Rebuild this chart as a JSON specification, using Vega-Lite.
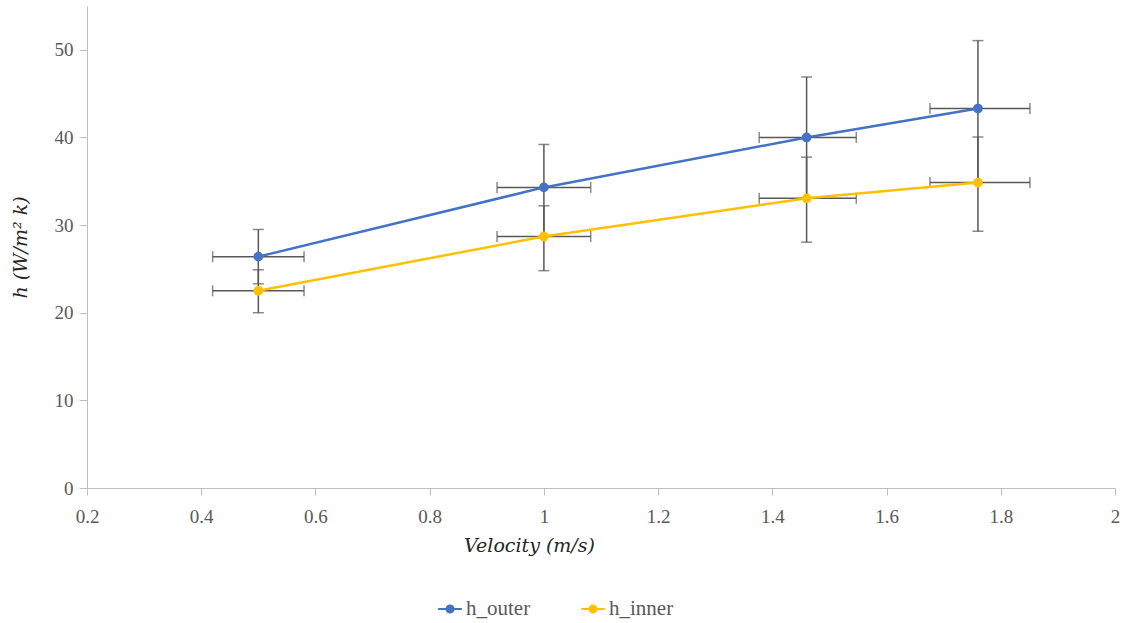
{
  "$schema": "https://vega.github.io/schema/vega-lite/v6.json",
  "autosize": {"type": "none"},
  "width": 1028,
  "height": 482,
  "padding": {"left": 87, "top": 6, "right": 10, "bottom": 135},
  "background": "white",
  "config": {
    "view": {"stroke": null},
    "axis": {
      "grid": false,
      "domainColor": "#bfbfbf",
      "tickColor": "#bfbfbf",
      "labelFont": "Liberation Serif",
      "labelFontSize": 19,
      "labelColor": "#595959",
      "labelFlush": false,
      "titleFont": "DejaVu Serif",
      "titleFontStyle": "italic",
      "titleFontWeight": "normal",
      "titleFontSize": 19,
      "titleColor": "#262626"
    }
  },
  "data": {
    "values": [
      {"series": "h_outer", "v": 0.5, "h": 26.4, "vlo": 23.3, "vhi": 29.5, "hlo": 0.42, "hhi": 0.58},
      {"series": "h_outer", "v": 1.0, "h": 34.3, "vlo": 28.7, "vhi": 39.2, "hlo": 0.918, "hhi": 1.082},
      {"series": "h_outer", "v": 1.46, "h": 40.0, "vlo": 33.1, "vhi": 46.9, "hlo": 1.377, "hhi": 1.547},
      {"series": "h_outer", "v": 1.76, "h": 43.3, "vlo": 34.85, "vhi": 51.05, "hlo": 1.676, "hhi": 1.851},
      {"series": "h_inner", "v": 0.5, "h": 22.5, "vlo": 20.0, "vhi": 24.9, "hlo": 0.42, "hhi": 0.58},
      {"series": "h_inner", "v": 1.0, "h": 28.7, "vlo": 24.8, "vhi": 32.2, "hlo": 0.918, "hhi": 1.082},
      {"series": "h_inner", "v": 1.46, "h": 33.05, "vlo": 28.05, "vhi": 37.75, "hlo": 1.377, "hhi": 1.547},
      {"series": "h_inner", "v": 1.76, "h": 34.85, "vlo": 29.3, "vhi": 40.05, "hlo": 1.676, "hhi": 1.851}
    ]
  },
  "layer": [
    {
      "mark": {"type": "rule", "color": "#595959", "strokeWidth": 1.5},
      "encoding": {
        "x": {"field": "v", "type": "quantitative",
          "scale": {"domain": [0.2, 2], "nice": false},
          "axis": {"values": [0.2, 0.4, 0.6, 0.8, 1, 1.2, 1.4, 1.6, 1.8, 2], "format": "~g", "tickSize": 7, "labelPadding": 12, "title": "Velocity (m/s)", "titleX": 442, "titlePadding": 10}},
        "y": {"field": "vlo", "type": "quantitative",
          "scale": {"domain": [0, 55], "nice": false},
          "axis": {"values": [0, 10, 20, 30, 40, 50], "tickSize": 8, "labelPadding": 6, "title": "h (W/m² k)", "titlePadding": 24}},
        "y2": {"field": "vhi"}
      }
    },
    {
      "mark": {"type": "rule", "color": "#595959", "strokeWidth": 1.5},
      "encoding": {
        "x": {"field": "hlo", "type": "quantitative"},
        "x2": {"field": "hhi"},
        "y": {"field": "h", "type": "quantitative"}
      }
    },
    {
      "mark": {"type": "tick", "orient": "horizontal", "color": "#595959", "size": 11, "thickness": 1.5},
      "encoding": {"x": {"field": "v", "type": "quantitative"}, "y": {"field": "vlo", "type": "quantitative"}}
    },
    {
      "mark": {"type": "tick", "orient": "horizontal", "color": "#595959", "size": 11, "thickness": 1.5},
      "encoding": {"x": {"field": "v", "type": "quantitative"}, "y": {"field": "vhi", "type": "quantitative"}}
    },
    {
      "mark": {"type": "tick", "orient": "vertical", "color": "#595959", "size": 11, "thickness": 1.5},
      "encoding": {"x": {"field": "hlo", "type": "quantitative"}, "y": {"field": "h", "type": "quantitative"}}
    },
    {
      "mark": {"type": "tick", "orient": "vertical", "color": "#595959", "size": 11, "thickness": 1.5},
      "encoding": {"x": {"field": "hhi", "type": "quantitative"}, "y": {"field": "h", "type": "quantitative"}}
    },
    {
      "mark": {"type": "line", "strokeWidth": 2.5},
      "encoding": {
        "x": {"field": "v", "type": "quantitative"},
        "y": {"field": "h", "type": "quantitative"},
        "color": {"field": "series", "type": "nominal",
          "scale": {"domain": ["h_outer", "h_inner"], "range": ["#4472C4", "#FFC000"]}}
      }
    },
    {
      "mark": {"type": "point", "filled": true, "opacity": 1, "size": 95},
      "encoding": {
        "x": {"field": "v", "type": "quantitative"},
        "y": {"field": "h", "type": "quantitative"},
        "color": {"field": "series", "type": "nominal",
          "scale": {"domain": ["h_outer", "h_inner"], "range": ["#4472C4", "#FFC000"]},
          "legend": {
            "title": null,
            "orient": "none",
            "direction": "horizontal",
            "legendX": 350,
            "legendY": 590,
            "symbolType": "M-1,0L1,0M0.3,0A0.3,0.3,0,1,1,-0.3,0A0.3,0.3,0,1,1,0.3,0",
            "symbolSize": 560,
            "symbolStrokeWidth": 2,
            "symbolOpacity": 1,
            "labelFont": "Liberation Serif",
            "labelFontSize": 21,
            "labelColor": "#595959",
            "columnPadding": 46,
            "labelOffset": 3
          }}
      }
    }
  ]
}
